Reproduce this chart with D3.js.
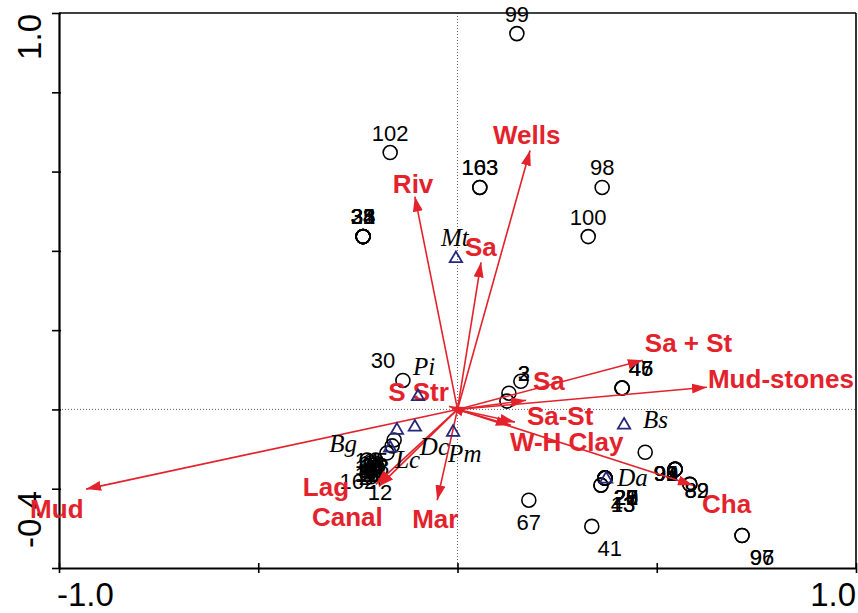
<!DOCTYPE html>
<html>
<head>
<meta charset="utf-8">
<script src="https://cdn.jsdelivr.net/npm/d3@7"></script>
<style>
  html, body { margin: 0; padding: 0; background: #fff; }
  svg { display: block; }
</style>
</head>
<body>
<svg id="chart" width="858" height="613"></svg>
<script>
// ---- Axis ticks ----
const xTicks = [-1.0, -0.5, 0, 0.5, 1.0];
const yTicks = [-0.4, -0.2, 0, 0.2, 0.4, 0.6, 0.8, 1.0];
const xTickLabels = ["-1.0", "1.0"];
const xTickLabelValues = [-1.0, 1.0];
const yTickLabels = ["-0.4", "1.0"];
const yTickLabelValues = [-0.4, 1.0];

// ---- Environmental variables (arrow tips, axis 1 / axis 2) ----
const envNames = ["Riv", "Wells", "Sa", "Sa + St", "Mud-stones", "Sa", "Sa-St",
                  "W-H Clay", "Cha", "Mar", "Lag", "Canal", "Mud", "S Str"];
const envX = [-0.107, 0.182, 0.059, 0.465, 0.626, 0.172, 0.144,
              0.134, 0.591, -0.051, -0.205, -0.197, -0.932, -0.021];
const envY = [0.537, 0.653, 0.371, 0.124, 0.056, 0.023, -0.032,
              -0.040, -0.191, -0.229, -0.189, -0.194, -0.201, 0.008];

// ---- Species scores ----
const speciesNames = ["Mt", "Pi", "Bg", "Dc", "Pm", "Lc", "Bs", "Da"];
const speciesX = [-0.004, -0.099, -0.152, -0.107, -0.011, -0.169, 0.418, 0.373];
const speciesY = [0.383, 0.035, -0.050, -0.042, -0.055, -0.095, -0.037, -0.173];

// ---- Sample scores ----
const sampleIds = ["99", "102", "103", "163", "98", "100",
  "23", "31", "32", "33", "34", "35", "38",
  "30", "2", "3", "1",
  "45", "46", "47", "84",
  "90", "91", "92", "93", "94", "95",
  "82", "89",
  "20", "21", "22", "25", "27", "28", "29",
  "13", "43",
  "67", "41", "96", "97",
  "12", "162", "5", "6", "7",
  "14", "15", "16", "17", "18", "19", "10", "11", "24", "26"];
const sampleX = [0.149, -0.169, 0.056, 0.056, 0.363, 0.328,
  -0.237, -0.237, -0.237, -0.237, -0.237, -0.237, -0.237,
  -0.137, 0.159, 0.129, 0.124,
  0.413, 0.413, 0.413, 0.471,
  0.546, 0.546, 0.546, 0.546, 0.546, 0.546,
  0.583, 0.583,
  0.370, 0.370, 0.370, 0.370, 0.370, 0.370, 0.370,
  0.360, 0.360,
  0.179, 0.337, 0.714, 0.714,
  -0.207, -0.225, -0.159, -0.164, -0.177,
  -0.227, -0.205, -0.217, -0.227, -0.202, -0.215, -0.227, -0.202, -0.217, -0.210];
const sampleY = [0.948, 0.648, 0.560, 0.560, 0.560, 0.436,
  0.436, 0.436, 0.436, 0.436, 0.436, 0.436, 0.436,
  0.073, 0.071, 0.041, 0.021,
  0.054, 0.054, 0.054, -0.108,
  -0.151, -0.151, -0.151, -0.151, -0.151, -0.151,
  -0.189, -0.189,
  -0.173, -0.173, -0.173, -0.173, -0.173, -0.173, -0.173,
  -0.191, -0.191,
  -0.229, -0.295, -0.318, -0.318,
  -0.163, -0.158, -0.077, -0.092, -0.110,
  -0.128, -0.128, -0.135, -0.145, -0.145, -0.153, -0.163, -0.163, -0.170, -0.140];

// ---- Label placement (pixel shifts from the plotted point) ----
const sampleLabelShift = [[0,-12],[0,-12],[0,-12],[0,-12],[0,-12],[0,-12],
  [0,-13],[0,-13],[0,-13],[0,-13],[0,-13],[0,-13],[0,-13],
  [-20,-12],[3,0],[15,-12],null,
  [19,-12],[19,-12],[19,-12],null,
  [-9,12],[-9,12],[-9,12],[-9,12],[-9,12],[-9,12],
  [7,14],[7,14],
  [21,27],[21,27],[21,27],[21,27],[21,27],[21,27],[21,27],
  [22,27],[22,27],
  [0,30],[18,30],[20,30],[20,30],
  [5,26],[-10,17],null,null,null,
  [0,8],[0,8],[0,8],[0,8],[0,8],[0,8],[0,8],[0,8],[0,8],[0,8]];
const envLabelShift = [[-22,-4],[-37,-7],[-16,-6],[2,-8],[1,1],[7,-10],[12,3],
  [-1,26],[9,28],[-25,28],[-73,12],[-67,40],[-56,29],[-61,-5]];
const speciesLabelShift = [["middle",-1,-12],["middle",6,-21],["end",-40,23],["start",5,29],
  ["start",-5,31],["start",5,21],["start",19,4],["start",11,8]];

// ---- Scales ----
const plotLeft = 59, plotRight = 856, plotTop = 13, plotBottom = 568;
const x = d3.scaleLinear().domain([-1, 1]).range([plotLeft, plotRight]);
const y = d3.scaleLinear().domain([-0.4, 1.0]).range([plotBottom, plotTop]);

const RED = "#e3222c";
const NAVY = "#25287a";

const svg = d3.select("#chart");

// arrow head marker
svg.append("defs").append("marker")
  .attr("id", "head")
  .attr("markerUnits", "userSpaceOnUse")
  .attr("viewBox", "0 0 15 10")
  .attr("markerWidth", 15).attr("markerHeight", 10)
  .attr("refX", 15).attr("refY", 5)
  .attr("orient", "auto")
  .append("path").attr("d", "M0,0 L15,5 L0,10 Z").attr("fill", RED);

// zero reference lines
svg.append("line")
  .attr("x1", x(0)).attr("x2", x(0)).attr("y1", y(1.0)).attr("y2", y(-0.4))
  .attr("stroke", "#666").attr("stroke-width", 1).attr("stroke-dasharray", "1,2");
svg.append("line")
  .attr("x1", x(-1)).attr("x2", x(1)).attr("y1", y(0)).attr("y2", y(0))
  .attr("stroke", "#666").attr("stroke-width", 1).attr("stroke-dasharray", "1,2");

// frame: top and right
svg.append("line").attr("x1", x(-1)).attr("x2", x(1)).attr("y1", y(1)).attr("y2", y(1))
  .attr("stroke", "#000").attr("stroke-width", 1.6);
svg.append("line").attr("x1", x(1)).attr("x2", x(1)).attr("y1", y(1)).attr("y2", y(-0.4))
  .attr("stroke", "#000").attr("stroke-width", 1.6);

// bottom axis
const gx = svg.append("g").attr("transform", `translate(0,${plotBottom})`)
  .call(d3.axisBottom(x).tickValues(xTicks).tickSize(5).tickSizeOuter(0).tickFormat(""));
gx.select(".domain").attr("stroke-width", 2.2);
gx.selectAll(".tick line").attr("y1", -5).attr("stroke-width", 1.6);

// left axis
const gy = svg.append("g").attr("transform", `translate(${plotLeft},0)`)
  .call(d3.axisLeft(y).tickValues(yTicks).tickSize(7).tickSizeOuter(0).tickFormat(""));
gy.select(".domain").attr("stroke-width", 2.2);
gy.selectAll(".tick line").attr("x1", 2).attr("stroke-width", 1.6);

// axis end labels
const sansFont = "'Liberation Sans', Arial, sans-serif";
svg.selectAll(".xlab").data(xTickLabels).join("text")
  .attr("x", (d, i) => x(xTickLabelValues[i]) + (i === 0 ? -2 : 0))
  .attr("y", 606)
  .attr("text-anchor", (d, i) => i === 0 ? "start" : "end")
  .attr("font-family", sansFont).attr("font-size", 33)
  .text(d => d);
svg.selectAll(".ylab").data(yTickLabels).join("text")
  .attr("transform", (d, i) => `translate(41,${i === 0 ? 548 : y(yTickLabelValues[i]) + 1}) rotate(-90)`)
  .attr("text-anchor", (d, i) => i === 0 ? "start" : "end")
  .attr("font-family", sansFont).attr("font-size", 33)
  .text(d => d);

// samples: open circles with numeric labels
const samples = sampleIds.map((id, i) => ({ id, x: sampleX[i], y: sampleY[i], s: sampleLabelShift[i] }));
svg.append("g").selectAll("circle").data(samples).join("circle")
  .attr("cx", d => x(d.x)).attr("cy", d => y(d.y)).attr("r", 7)
  .attr("fill", "none").attr("stroke", "#000").attr("stroke-width", 1.6);
svg.append("g").selectAll("text").data(samples.filter(d => d.s)).join("text")
  .attr("x", d => x(d.x) + d.s[0]).attr("y", d => y(d.y) + d.s[1])
  .attr("text-anchor", "middle")
  .attr("font-family", sansFont).attr("font-size", 22).attr("fill", "#000")
  .text(d => d.id);

// environmental arrows
const env = envNames.map((n, i) => ({ n, x: envX[i], y: envY[i], s: envLabelShift[i] }));
svg.append("g").selectAll("line").data(env).join("line")
  .attr("x1", x(0)).attr("y1", y(0))
  .attr("x2", d => x(d.x)).attr("y2", d => y(d.y))
  .attr("stroke", RED).attr("stroke-width", 1.6)
  .attr("marker-end", "url(#head)");
svg.append("g").selectAll("text").data(env).join("text")
  .attr("x", d => x(d.x) + d.s[0]).attr("y", d => y(d.y) + d.s[1])
  .attr("font-family", sansFont).attr("font-weight", "bold").attr("font-size", 26)
  .attr("fill", RED)
  .text(d => d.n);

// species: open triangles with italic labels
const species = speciesNames.map((n, i) => ({ n, x: speciesX[i], y: speciesY[i], s: speciesLabelShift[i] }));
const tri = d3.symbol().type(d3.symbolTriangle).size(66);
svg.append("g").selectAll("path").data(species).join("path")
  .attr("transform", d => `translate(${x(d.x)},${y(d.y) + 1})`)
  .attr("d", tri)
  .attr("fill", "none").attr("stroke", NAVY).attr("stroke-width", 1.8);
svg.append("g").selectAll("text").data(species).join("text")
  .attr("x", d => x(d.x) + d.s[1]).attr("y", d => y(d.y) + d.s[2])
  .attr("text-anchor", d => d.s[0])
  .attr("font-family", "'Liberation Serif', 'Times New Roman', serif")
  .attr("font-style", "italic").attr("font-size", 25).attr("fill", "#000")
  .text(d => d.n);
</script>
</body>
</html>
